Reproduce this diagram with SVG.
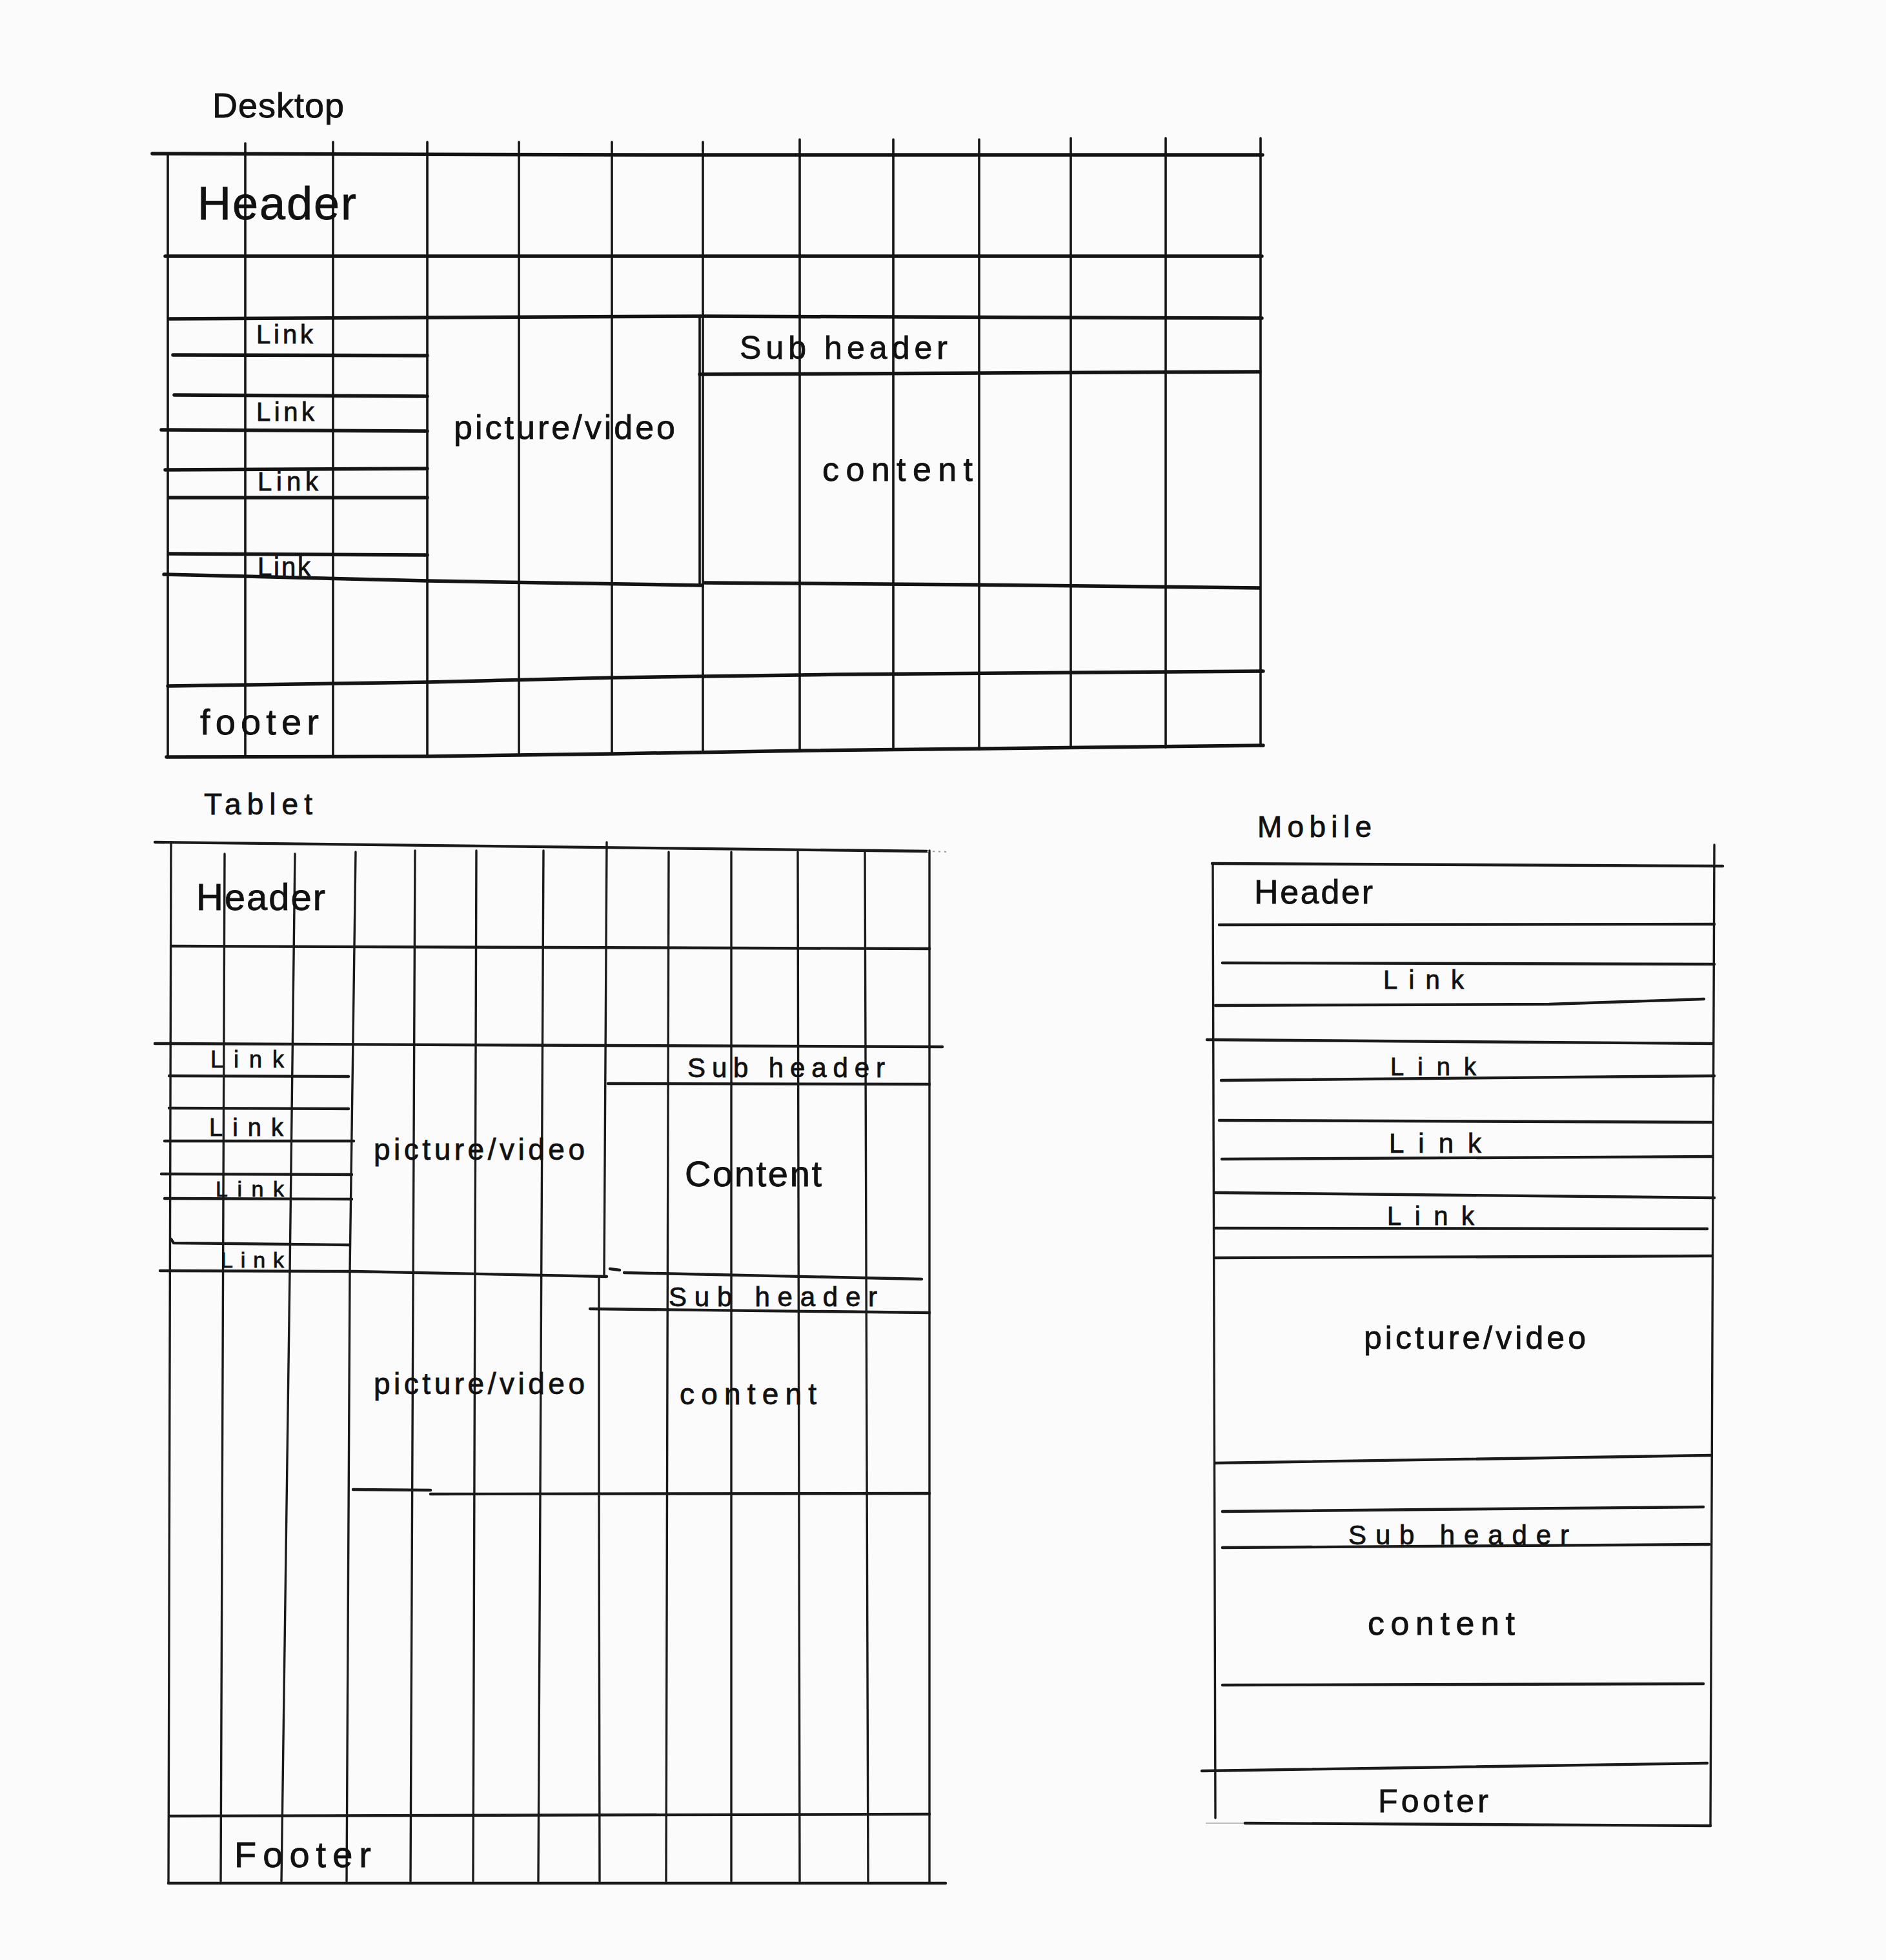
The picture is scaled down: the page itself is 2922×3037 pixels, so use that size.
<svg xmlns="http://www.w3.org/2000/svg" width="2922" height="3037" viewBox="0 0 2922 3037">
<style>
.h{fill:none;stroke:#141414;stroke-width:5.5;stroke-linecap:round;stroke-linejoin:round}
.v{fill:none;stroke:#141414;stroke-width:3.6;stroke-linecap:round}
.ht{fill:none;stroke:#1a1a1a;stroke-width:4.4;stroke-linecap:round;stroke-linejoin:round}
.vt{fill:none;stroke:#1a1a1a;stroke-width:3.4;stroke-linecap:round}
.t{font-family:"Liberation Sans","DejaVu Sans",sans-serif;fill:#111;stroke:#111;stroke-width:0.8;lengthAdjust:spacing}
</style>
<rect x="0" y="0" width="2922" height="3037" fill="#fbfbfb"/>

<g id="desktop">
  <g id="desktop-grid">
    <path class="v" d="M260 238V1173M380 222V1172M516 220V1171M662 220V1170M804 220V1168M948 220V1167M1089 220V1165M1239 216V1164M1384 216V1162M1517 216V1161M1659 214V1159M1806 214V1158M1953 214V1156"/>
    <path class="v" d="M1084 492V907"/>
    <path class="h" d="M236 238L1000 240L1956 240"/>
    <path class="h" d="M256 397L1955 397"/>
    <path class="h" d="M262 494L662 492L1090 490L1955 493"/>
    <path class="h" d="M268 550L662 551M270 612L662 614M250 666L662 668M256 728L662 726M262 771L662 771M262 858L662 860"/>
    <path class="h" d="M254 890L380 893L663 900L1088 907M1092 903L1500 906L1951 911"/>
    <path class="h" d="M1084 580L1952 576"/>
    <path class="h" d="M260 1063L663 1057L950 1050L1300 1045L1957 1040"/>
    <path class="h" d="M258 1173L663 1172L950 1168L1250 1163L1957 1155"/>
  </g>
  <text class="t" x="329" y="182" font-size="54" textLength="204">Desktop</text>
  <g id="desktop-header"><text class="t" x="306" y="340" font-size="72" textLength="246">Header</text></g>
  <g id="desktop-links">
    <text class="t" x="397" y="532" font-size="40" textLength="88">Link</text>
    <text class="t" x="397" y="652" font-size="40" textLength="90">Link</text>
    <text class="t" x="399" y="760" font-size="40" textLength="94">Link</text>
    <text class="t" x="399" y="892" font-size="40" textLength="82">Link</text>
  </g>
  <g id="desktop-media"><text class="t" x="703" y="680" font-size="52" textLength="343">picture/video</text></g>
  <g id="desktop-subheader"><text class="t" x="1146" y="556" font-size="50" textLength="322">Sub header</text></g>
  <g id="desktop-content"><text class="t" x="1274" y="745" font-size="52" textLength="233">content</text></g>
  <g id="desktop-footer"><text class="t" x="310" y="1138" font-size="56" textLength="184">footer</text></g>
</g>

<g id="tablet">
  <g id="tablet-grid">
    <path class="vt" d="M265 1305L261 2918M348 1323L342 2915M457 1323L449 1970L436 2915M551 1320L542 1970L537 2915M643 1318L636 2915M738 1318L733 2915M842 1318L834 2915M940 1305L936 1978M928 1978L928 2310L929 2915M1036 1320L1032 2915M1133 1320L1133 2915M1236 1320L1239 2915M1340 1320L1345 2915M1440 1318L1440 2918"/>
    <path class="ht" d="M240 1305L1436 1319"/>
    <path d="M1436 1319L1470 1320" stroke="#999" stroke-width="2" stroke-dasharray="3 6" fill="none"/>
    <path class="ht" d="M265 1466L1440 1470"/>
    <path class="ht" d="M240 1617L940 1620L1460 1622"/>
    <path class="ht" d="M262 1667L540 1668M262 1717L540 1718M255 1768L548 1768M250 1819L545 1820M255 1857L545 1858M265 1920L269 1926L542 1929"/>
    <path class="ht" d="M248 1969L548 1970L940 1978"/>
    <path class="ht" d="M942 1679L1440 1680"/>
    <path class="ht" d="M945 1966L960 1968M967 1972L1428 1982"/>
    <path class="ht" d="M914 2028L1440 2034"/>
    <path class="ht" d="M547 2308L667 2309" stroke-width="5.5"/>
    <path class="ht" d="M667 2315L1440 2314"/>
    <path class="ht" d="M262 2814L1440 2811"/>
    <path class="ht" d="M261 2918L1465 2918"/>
  </g>
  <text class="t" x="316" y="1262" font-size="46" textLength="168">Tablet</text>
  <g id="tablet-header"><text class="t" x="304" y="1410" font-size="58" textLength="200">Header</text></g>
  <g id="tablet-links">
    <text class="t" x="326" y="1654" font-size="36" textLength="114">Link</text>
    <text class="t" x="324" y="1760" font-size="38" textLength="115">Link</text>
    <text class="t" x="334" y="1854" font-size="34" textLength="106">Link</text>
    <text class="t" x="342" y="1964" font-size="34" textLength="98">Link</text>
  </g>
  <g id="tablet-media-1"><text class="t" x="579" y="1797" font-size="46" textLength="327">picture/video</text></g>
  <g id="tablet-subheader-1"><text class="t" x="1065" y="1669" font-size="42" textLength="306">Sub header</text></g>
  <g id="tablet-content-1"><text class="t" x="1061" y="1838" font-size="56" textLength="212">Content</text></g>
  <g id="tablet-subheader-2"><text class="t" x="1036" y="2024" font-size="42" textLength="323">Sub header</text></g>
  <g id="tablet-media-2"><text class="t" x="579" y="2160" font-size="46" textLength="327">picture/video</text></g>
  <g id="tablet-content-2"><text class="t" x="1053" y="2176" font-size="46" textLength="212">content</text></g>
  <g id="tablet-footer"><text class="t" x="363" y="2893" font-size="56" textLength="212">Footer</text></g>
</g>

<g id="mobile">
  <g id="mobile-grid">
    <path class="vt" d="M1879 1338L1883 2817M2656 1309L2650 2828"/>
    <path class="ht" d="M1878 1338L2669 1342"/>
    <path class="ht" d="M1889 1433L2656 1432M1894 1492L2656 1494M1883 1558L2400 1556L2640 1548M1870 1611L2653 1617M1892 1674L2656 1667M1889 1736L2653 1739M1893 1796L2653 1792M1883 1848L2656 1856M1883 1903L2645 1904M1883 1949L2653 1946"/>
    <path class="ht" d="M1883 2267L2650 2255M1894 2342L2639 2335M1894 2398L2648 2393M1894 2611L2639 2609"/>
    <path class="ht" d="M1862 2744L2645 2732"/>
    <path d="M1868 2825L1927 2825" stroke="#bbb" stroke-width="2" fill="none"/>
    <path class="ht" d="M1929 2825L2650 2829"/>
  </g>
  <text class="t" x="1948" y="1297" font-size="46" textLength="177">Mobile</text>
  <g id="mobile-header"><text class="t" x="1943" y="1400" font-size="52" textLength="184">Header</text></g>
  <g id="mobile-links">
    <text class="t" x="2143" y="1532" font-size="40" textLength="125">Link</text>
    <text class="t" x="2154" y="1666" font-size="38" textLength="133">Link</text>
    <text class="t" x="2152" y="1786" font-size="42" textLength="143">Link</text>
    <text class="t" x="2149" y="1898" font-size="40" textLength="135">Link</text>
  </g>
  <g id="mobile-media"><text class="t" x="2113" y="2090" font-size="50" textLength="344">picture/video</text></g>
  <g id="mobile-subheader"><text class="t" x="2089" y="2393" font-size="42" textLength="342">Sub header</text></g>
  <g id="mobile-content"><text class="t" x="2119" y="2533" font-size="52" textLength="228">content</text></g>
  <g id="mobile-footer"><text class="t" x="2135" y="2808" font-size="50" textLength="171">Footer</text></g>
</g>
</svg>
